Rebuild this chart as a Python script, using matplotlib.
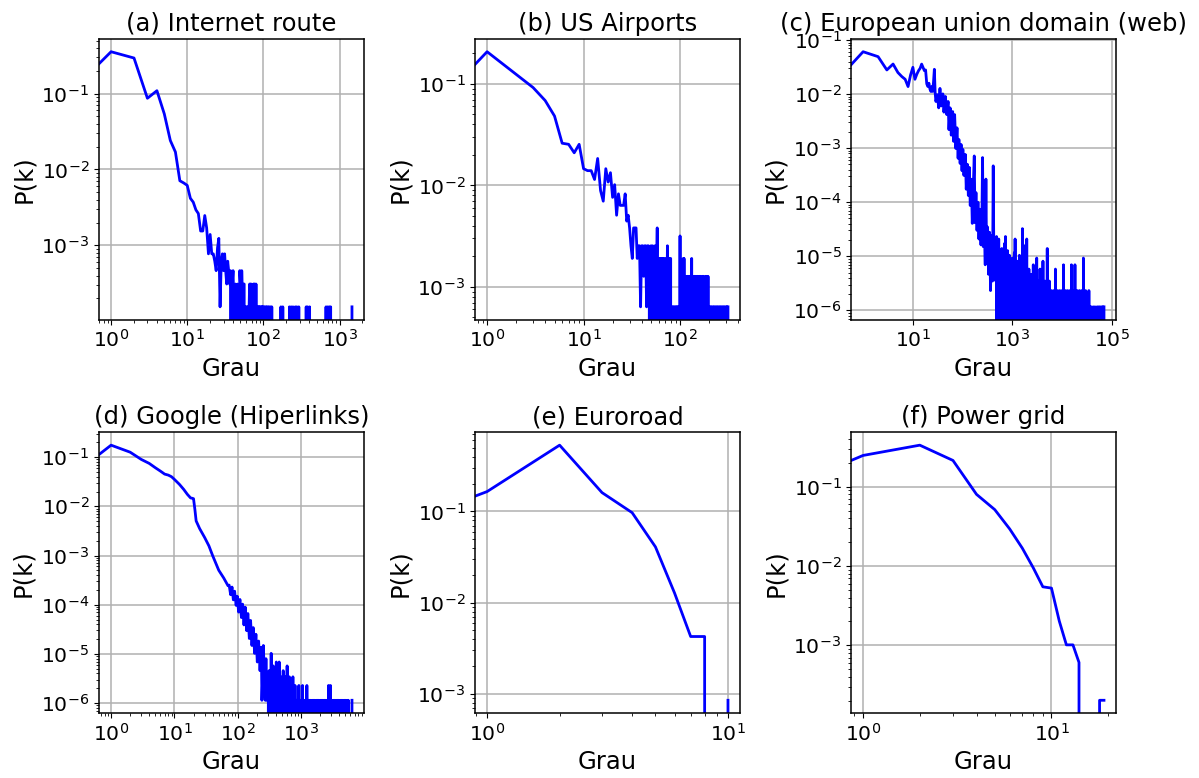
import numpy as np
import matplotlib.pyplot as plt

# distribuições de grau P(k) = n(k)/N para seis redes reais
titulos = ['(a) Internet route', '(b) US Airports', '(c) European union domain (web)',
           '(d) Google (Hiperlinks)', '(e) Euroroad', '(f) Power grid']

# (a) Internet route: n(k) para k = 0..100, depois graus isolados com 1 nó
N_a = 6474
n_a = [0, 2312, 1910, 563, 708, 350, 156, 110, 46, 43, 40, 27, 24, 19, 17, 10, 10, 16, 11, 5,
       9, 5, 5, 4, 3, 6, 8, 1, 4, 5, 3, 5, 3, 2, 4, 3, 2,
       3, 0, 2, 3, 1, 0, 2, 1, 0, 2, 1, 0, 3, 2, 0, 3, 1, 0, 2, 2,
       0, 1, 1, 0, 1, 0, 1, 0, 1, 2, 0, 2, 2, 0, 1, 0, 1, 2, 2, 0,
       2, 1, 0, 2, 0, 1, 0, 1, 1, 0, 1, 0, 1, 0, 1, 0, 0, 1, 0, 1,
       0, 1, 0, 1]
cauda_k_a = [101, 104, 108, 111, 115, 119, 124, 129, 170, 180, 220, 232, 245, 262, 275, 292,
             365, 380, 405, 665, 700, 735, 765, 1458]
cauda_n_a = [1] * len(cauda_k_a)

# (b) US Airports
N_b = 1574
n_b = [0, 327, 196, 145, 108, 76, 41, 40, 33, 40, 23, 22, 22, 18, 29, 14, 11, 23, 17, 21,
       12, 16, 8, 13, 10, 10, 10, 13, 7, 8, 6, 4, 3, 6, 6, 6, 3, 4, 4, 1,
       4, 4, 2, 4, 4, 1, 4, 4, 3, 0, 4, 0, 4, 1, 0, 4, 0, 1, 6, 0,
       3, 1, 3, 0, 3, 1, 3, 0, 3, 1, 0, 3, 0, 1, 4, 0, 3, 1, 0, 3,
       3, 0, 1]
cauda_k_b = [84, 86, 88, 89, 91, 93, 95, 97, 100, 102, 104, 106, 108, 110, 112, 114, 117, 119,
             121, 124, 126, 129, 132, 134, 137, 140, 143, 147, 150, 153, 157, 160, 164, 168,
             172, 176, 180, 185, 190, 195, 200, 204, 209, 214, 220, 225, 231, 237, 243, 249,
             256, 262, 269, 276, 283, 290, 298, 306, 314]
cauda_n_b = [1, 1, 1, 1, 1, 1, 1, 1, 5, 1, 2, 1, 3, 3, 2, 2, 1, 2,
             2, 1, 2, 2, 3, 2, 1, 2, 2, 1, 2, 2, 1, 2, 2, 1,
             2, 2, 1, 2, 2, 2, 1, 1, 1, 1, 1, 1, 1, 1, 1, 1,
             1, 1, 1, 1, 1, 1, 1, 1, 1]

# (c) European union domain (web)
N_c = 862664
k_c = list(range(31)) + [31, 33, 35, 37, 40, 42, 45, 48, 51, 53, 56, 59, 63, 66, 69, 73, 77, 81,
                         84, 89, 93, 97, 101, 106, 113, 118, 124, 130, 136, 142, 149, 156, 163,
                         171, 177, 185, 194, 203, 212, 222, 233, 244, 251, 259, 271, 284, 293,
                         302, 316, 331, 347, 363, 380, 398, 411, 424, 444, 464, 478]
n_c = [0, 52450, 42530, 24150, 31060, 21650, 18200, 16220, 11900, 19580, 27000, 16220, 20100,
       23460, 25880, 31000, 27000, 23460, 24150, 13370, 11900, 13720, 10700, 9660, 11900, 9660,
       14670, 24840, 9230, 6300, 7290,
       8391, 4800, 11000, 5200, 8700, 4000, 7800, 3600, 6300, 1900, 4800, 1500, 4100, 1150, 3600,
       850, 2050, 560, 1250, 450, 1010, 330, 820, 270, 660, 150, 435, 115, 380, 75, 230, 35,
       150, 619, 36, 130, 26, 86, 18, 64, 14, 50, 578, 13, 40, 6, 231, 9, 30, 4, 24, 2, 21,
       3, 406, 6, 18, 3, 20]
cauda_k_c = [480, 505, 530, 558, 585, 612, 640, 672, 700, 724, 760, 795, 830, 870, 905, 950, 990,
             1040, 1090, 1130, 1190, 1250, 1310, 1380, 1450, 1520, 1585, 1660, 1740, 1850, 1936,
             2030, 2140, 2250, 2370, 2490, 2620, 2760, 2900, 3070, 3230, 3400, 3580, 3780, 3960,
             4100, 4300, 4520, 4760, 5000, 5250, 5520, 5800, 6100, 6400, 6750, 7050, 7300, 7700,
             8100, 8500, 8950, 9400, 9900, 10600, 11100, 11700, 12300, 12900, 13600, 14300,
             15300, 16100, 17000, 18000, 19000, 20000, 21100, 22200, 23400, 24600, 26600, 28000,
             29500, 31000, 32600, 34300, 36000, 38500, 42000, 45500, 50000, 53500, 57000, 61000,
             65000, 68963]
cauda_n_c = [14, 8, 18, 10, 6, 12, 9, 5, 15, 20, 7, 11, 4, 9, 6, 3, 8,
             5, 10, 18, 4, 7, 3, 9, 5, 3, 28, 4, 6, 14, 18,
             3, 5, 2, 4, 3, 6, 2, 4, 8, 2, 3, 5, 2, 3,
             7, 2, 3, 2, 12, 2, 3, 1, 2, 1, 2, 1, 5, 1,
             2, 1, 2, 1, 2, 6, 1, 2, 1, 2, 1, 2,
             6, 1, 2, 6, 1, 2, 1, 2, 1, 2, 8, 1,
             2, 1, 1, 2, 1, 1, 1, 1, 1, 1, 1, 1,
             1, 1]

# (d) Google (Hiperlinks)
N_d = 875713
k_d = list(range(11)) + [12, 14, 16, 18, 19, 20, 21, 22, 25, 30, 35, 40, 50, 60, 70,
                         73, 77, 81, 85, 89, 94, 98, 103, 108, 114, 119, 125, 131, 138, 144,
                         152, 159, 167, 175, 184, 193, 203, 213, 224, 235, 240, 247, 253, 265,
                         271, 278, 285, 292, 302]
n_d = [0, 153250, 110340, 78550, 65240, 53240, 45540, 39580, 37740, 34940, 30830,
       24430, 19350, 15320, 12960, 12790, 12520, 7620, 4420, 3080, 2030, 1375, 876, 440, 305, 213,
       219, 140, 200, 110, 165, 85, 130, 62, 112, 48, 90, 34, 78, 26, 58,
       18, 42, 13, 30, 9, 22, 6, 16, 4, 12, 1, 3, 13, 2,
       1, 7, 1, 2, 1]
cauda_k_d = [303, 312, 322, 336, 350, 362, 375, 390, 405, 420, 435, 450, 466, 482, 500, 520, 540,
             560, 580, 600, 625, 650, 675, 700, 740, 770, 800, 840, 880, 920, 960, 1000, 1050,
             1100, 1150, 1230, 1290, 1350, 1420, 1490, 1560, 1640, 1720, 1800, 1890, 1990, 2090,
             2200, 2310, 2430, 2560, 2700, 2900, 3050, 3200, 3370, 3550, 3730, 3920, 4120, 4340,
             4560, 4800, 5050, 5300, 5550, 6332]
cauda_n_d = [2, 4, 1, 9, 2, 5, 1, 3, 6, 2, 5, 6, 1, 3, 2, 4, 1,
             3, 2, 5, 1, 3, 2, 1, 3, 1, 2, 1, 1, 2, 1, 1, 2,
             1, 1, 2, 1, 1, 1, 1, 1, 1, 1, 1, 1, 1, 1,
             1, 1, 1, 1, 2, 2, 1, 1, 1, 1, 1, 1, 1, 1,
             1, 1, 1, 1, 1, 1]

# (e) Euroroad
N_e = 1174
n_e = [0, 194, 626, 189, 114, 48, 15, 5, 5, 0, 1]

# (f) Power grid
N_f = 4941
n_f = [0, 1226, 1652, 1060, 396, 254, 145, 83, 47, 27, 26, 10, 5, 5, 3, 0, 0, 0, 1, 1]


def distribuicao(k_corpo, n_corpo, N, cauda_k=(), cauda_n=()):
    # junta o corpo (pontos listados) com a cauda, onde os graus ausentes valem zero
    k = list(k_corpo)
    n = list(n_corpo)
    if len(cauda_k) > 0:
        inicio = k[-1] + 1
        hist = np.zeros(cauda_k[-1] - inicio + 1)
        hist[np.array(cauda_k) - inicio] = cauda_n
        k += list(range(inicio, cauda_k[-1] + 1))
        n += list(hist)
    return np.array(k, dtype=float), np.array(n, dtype=float) / N


redes = [
    distribuicao(range(len(n_a)), n_a, N_a, cauda_k_a, cauda_n_a),
    distribuicao(range(len(n_b)), n_b, N_b, cauda_k_b, cauda_n_b),
    distribuicao(k_c, n_c, N_c, cauda_k_c, cauda_n_c),
    distribuicao(k_d, n_d, N_d, cauda_k_d, cauda_n_d),
    distribuicao(range(len(n_e)), n_e, N_e),
    distribuicao(range(len(n_f)), n_f, N_f),
]

plt.rcParams['axes.linewidth'] = 1.1
plt.rcParams['grid.linewidth'] = 1.1
plt.rcParams['xtick.labelsize'] = 14.7
plt.rcParams['ytick.labelsize'] = 14.7

fig, axes = plt.subplots(2, 3, figsize=(11.99, 7.78), dpi=100)
fig.subplots_adjust(left=0.0826, right=0.9308, bottom=0.0835, top=0.9499,
                    wspace=0.419, hspace=0.402)

for ax, titulo, (k, pk) in zip(axes.flat, titulos, redes):
    ax.loglog(k, pk, color='b', linewidth=2.0)
    ax.set_title(titulo, fontsize=17.5)
    ax.set_xlabel('Grau', fontsize=17.5)
    ax.set_ylabel('P(k)', fontsize=17.5)
    ax.grid(True)

fig.savefig('out.png', dpi=100)
